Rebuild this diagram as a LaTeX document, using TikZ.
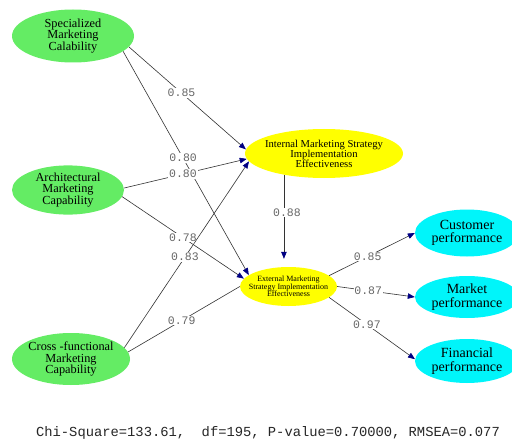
\documentclass[tikz,border=0pt]{standalone}
\usepackage{fontspec}
\setmainfont{Liberation Serif}
\newfontfamily\monof{Liberation Mono}
\usetikzlibrary{arrows.meta,shapes.geometric}
\definecolor{lgreen}{RGB}{100,236,100}
\definecolor{lyellow}{RGB}{255,255,0}
\definecolor{lcyan}{RGB}{0,245,250}
\definecolor{tipblue}{RGB}{0,0,130}
\begin{document}
\begin{tikzpicture}[x=1pt,y=-1pt,
  lat/.style={ellipse, inner sep=0pt, inner xsep=-12pt, align=center, text=black},
  exo/.style={lat, fill=lgreen, font=\fontsize{12.3}{11.8}\selectfont},
  perf/.style={lat, fill=lcyan, font=\fontsize{14}{13.3}\selectfont},
  path/.style={draw=black!80, line width=0.6pt, -{Triangle[length=7pt,width=5.5pt,color=tipblue]}},
  plain/.style={draw=black!80, line width=0.6pt},
  lbl/.style={fill=white, inner sep=0.8pt, text=black!60, font=\monof\fontsize{11.5}{11.5}\selectfont}]
\useasboundingbox[fill=white] (0,0) rectangle (512,444);

\node[exo, minimum width=122pt, minimum height=53pt] (S) at (73,36) {Specialized\\Marketing\\Calability};
\node[exo, minimum width=112pt, minimum height=47pt] (A) at (68,190) {Architectural\\Marketing\\Capability};
\node[exo, minimum width=118pt, minimum height=52pt] (C) at (71,359) {Cross -functional\\Marketing\\Capability};

\node[lat, fill=lyellow, minimum width=158pt, minimum height=49pt, font=\fontsize{10.6}{10}\selectfont] (I) at (324,153.5) {Internal Marketing Strategy\\Implementation\\Effectiveness};
\node[lat, fill=lyellow, minimum width=97pt, minimum height=39pt, font=\fontsize{8}{7.7}\selectfont] (E) at (288.5,286.5) {External Marketing\\Strategy Implementation\\Effectiveness};

\node[perf, minimum width=104pt, minimum height=47pt] (Cu) at (467,233) {Customer\\performance};
\node[perf, minimum width=104pt, minimum height=42pt] (Mk) at (467,297) {Market\\performance};
\node[perf, minimum width=104pt, minimum height=44pt] (Fi) at (467,361) {Financial\\performance};

\draw[path] (S.-11) -- node[lbl,pos=.45]{0.85} (I.177);
\draw[path] (S.-17) -- node[lbl,pos=.477]{0.80} (E.164);
\draw[path] (A.2) -- node[lbl,pos=.48]{0.80} (I.184);
\draw[path] (A.-7) -- node[lbl,pos=.50]{0.78} (E.170);
\draw[path] (C.12) -- node[lbl,pos=.486]{0.83} (I.186);
\draw[plain] (C.7) -- node[lbl,pos=.48]{0.79} (E.180);
\draw[path, shorten >=8pt] (I.208.6) -- node[lbl,pos=.41,xshift=3pt]{0.88} (I.208.6 |- E.north);
\draw[path] (E.15) -- node[lbl,pos=.45]{0.85} (Cu.180);
\draw[path] (E.0) -- node[lbl,pos=.40]{0.87} (Mk.180);
\draw[path] (E.-15) -- node[lbl,pos=.44]{0.97} (Fi.178);

\node[text=black!85, font=\monof\fontsize{13.8}{14}\selectfont, inner sep=0pt] (fit) at (268,433) {Chi-Square=133.61,\ \ df=195, P-value=0.70000, RMSEA=0.077};
\end{tikzpicture}
\end{document}
